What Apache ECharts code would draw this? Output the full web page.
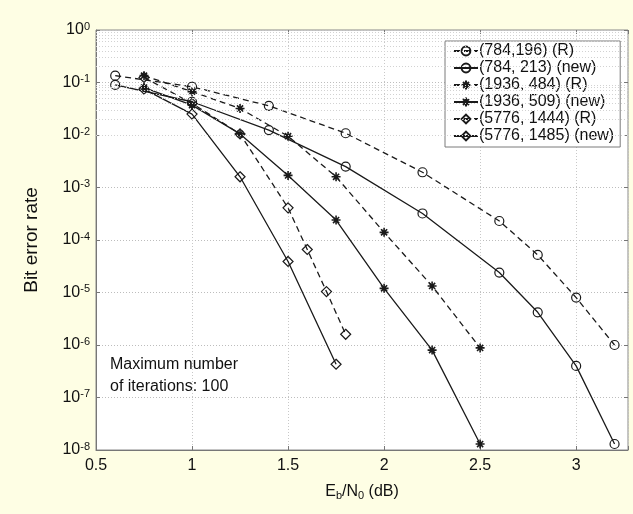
<!DOCTYPE html>
<html>
<head>
<meta charset="utf-8">
<script src="https://cdn.jsdelivr.net/npm/echarts@6/dist/echarts.min.js"></script>
<style>
  html, body { margin: 0; padding: 0; }
  #chart { width: 633px; height: 514px; }
</style>
</head>
<body>
<div id="chart"></div>
<script>
// Eb/N0 points (dB) and measured bit error rates for each code
const snr784 = [0.6, 1.0, 1.4, 1.8, 2.2, 2.6, 2.8, 3.0, 3.2];
const ber784R = [0.135, 0.083, 0.036, 0.0108, 0.00195, 2.3e-4, 5.2e-5, 8e-6, 1e-6];
const ber784New = [0.09, 0.043, 0.0124, 0.0025, 3.2e-4, 2.4e-5, 4.2e-6, 4e-7, 1.3e-8];

const snr1936 = [0.75, 1.0, 1.25, 1.5, 1.75, 2.0, 2.25, 2.5];
const ber1936R = [0.135, 0.067, 0.032, 0.0095, 0.0016, 1.4e-4, 1.33e-5, 8.8e-7];
const ber1936New = [0.08, 0.037, 0.0105, 0.0017, 2.4e-4, 1.2e-5, 8e-7, 1.3e-8];

const snr5776R = [0.75, 1.0, 1.25, 1.5, 1.6, 1.7, 1.8];
const ber5776R = [0.125, 0.04, 0.0105, 4.1e-4, 6.6e-5, 1.04e-5, 1.6e-6];
const snr5776New = [0.75, 1.0, 1.25, 1.5, 1.75];
const ber5776New = [0.075, 0.025, 1.6e-3, 3.9e-5, 4.3e-7];

const seriesNames = [
  '(784,196) (R)', '(784, 213) (new)',
  '(1936, 484) (R)', '(1936, 509) (new)',
  '(5776, 1444) (R)', '(5776, 1485) (new)'
];

const xTicks = [0.5, 1, 1.5, 2, 2.5, 3];

// minor log grid lines: 2..9 x 10^k
const minorGrid = [];
for (let k = -8; k < 0; k++) {
  for (let m = 2; m <= 9; m++) minorGrid.push(m * Math.pow(10, k));
}

const ink = '#1a1a1a';
const paper = '#FEFEE4';
const asterisk = 'path://M5,0L5,10M0,5L10,5M1.6,1.6L8.4,8.4M1.6,8.4L8.4,1.6';

function pairs(xs, ys) { return xs.map((x, i) => [x, ys[i]]); }

function makeSeries(name, xs, ys, symbol, dashed) {
  const isStar = symbol === asterisk;
  return {
    name: name,
    type: 'line',
    data: pairs(xs, ys),
    symbol: symbol,
    symbolSize: isStar ? 9 : (symbol === 'diamond' ? 10 : 9),
    showAllSymbol: true,
    lineStyle: { color: ink, width: 1.3, type: dashed ? [6, 4] : 'solid' },
    itemStyle: {
      color: isStar ? ink : 'rgba(255,255,255,0)',
      borderColor: ink,
      borderWidth: isStar ? 1.6 : 1.2
    },
    emphasis: { disabled: true },
    animation: false,
    z: 3
  };
}

const chart = echarts.init(document.getElementById('chart'), null, { renderer: 'canvas' });

const option = {
  animation: false,
  grid: {
    left: 96, right: 5, top: 30, bottom: 64,
    show: true, backgroundColor: '#ffffff', borderColor: '#8a8a8a', borderWidth: 1,
    containLabel: false, outerBoundsMode: 'none'
  },
  xAxis: [{
    type: 'value', min: 0.5, max: 3.27, interval: 0.5,
    axisLine: { show: true, lineStyle: { color: '#777' } },
    axisTick: { show: true, inside: true, length: 4, lineStyle: { color: '#777' } },
    axisLabel: {
      color: '#111', fontFamily: 'Liberation Sans', fontSize: 16, margin: 8,
      formatter: v => xTicks.some(t => Math.abs(t - v) < 1e-6) ? String(v) : ''
    },
    splitLine: { show: true, lineStyle: { color: '#c8c8c8', type: [1, 2] } },
    name: '{n|E}{s|b}{n|/N}{s|0}{n| (dB)}',
    nameLocation: 'middle', nameGap: 32,
    nameTextStyle: {
      rich: {
        n: { fontFamily: 'Liberation Sans', fontSize: 16, color: '#111' },
        s: { fontFamily: 'Liberation Sans', fontSize: 11, color: '#111', verticalAlign: 'bottom', padding: [8, 0, 0, 0] }
      }
    }
  }, {
    type: 'value', min: 0.5, max: 3.27, interval: 0.5, position: 'top',
    axisLine: { show: false },
    axisTick: { show: true, inside: true, length: 4, lineStyle: { color: '#777' } },
    axisLabel: { show: false }, splitLine: { show: false }
  }],
  yAxis: [{
    type: 'log', logBase: 10, min: 1e-8, max: 1, splitNumber: 8,
    axisLine: { show: true, lineStyle: { color: '#777' } },
    axisTick: { show: true, inside: true, length: 4, lineStyle: { color: '#777' } },
    axisLabel: {
      margin: 6,
      formatter: v => '{b|10}{e|' + Math.round(Math.log10(v)) + '}',
      rich: {
        b: { fontFamily: 'Liberation Sans', fontSize: 16, color: '#111', lineHeight: 18 },
        e: { fontFamily: 'Liberation Sans', fontSize: 11, color: '#111', verticalAlign: 'top', lineHeight: 12, padding: [0, 0, 10, 0] }
      }
    },
    splitLine: { show: true, lineStyle: { color: '#bdbdbd', type: [1, 2] } },
    name: 'Bit error rate', nameLocation: 'middle', nameGap: 55,
    nameTextStyle: { fontFamily: 'Liberation Sans', fontSize: 19, color: '#111' }
  }, {
    type: 'log', logBase: 10, min: 1e-8, max: 1, splitNumber: 8, position: 'right',
    axisLine: { show: false },
    axisTick: { show: true, inside: true, length: 4, lineStyle: { color: '#777' } },
    axisLabel: { show: false }, splitLine: { show: false }
  }],
  legend: {
    orient: 'vertical', left: 445, top: 41,
    backgroundColor: '#ffffff', borderColor: '#7a7a7a', borderWidth: 1,
    padding: [2, 6, 3, 8], itemWidth: 24, itemHeight: 11, itemGap: 1,
    selectedMode: false,
    textStyle: { fontFamily: 'Liberation Sans', fontSize: 16, lineHeight: 16, color: '#111', padding: [0, 0, 0, -4] },
    data: seriesNames
  },
  graphic: [{
    // page background behind everything
    type: 'rect', left: 0, top: 0, z: -100, silent: true,
    shape: { width: 633, height: 514 },
    style: { fill: paper }
  }, {
    type: 'text', left: 185 - 75, top: 354, silent: true,
    style: {
      text: 'Maximum number\nof iterations: 100', x: 0, y: 0,
      fontFamily: 'Liberation Sans', fontSize: 16, lineHeight: 22, fill: '#111', align: 'center',
      width: 150
    }
  }],
  series: [
    {
      type: 'line', data: [], silent: true, z: 1,
      markLine: {
        silent: true, symbol: ['none', 'none'], animation: false,
        label: { show: false },
        lineStyle: { color: '#d2d2d2', type: [1, 2], width: 1 },
        data: minorGrid.map(v => ({ yAxis: v }))
      }
    },
    makeSeries(seriesNames[0], snr784, ber784R, 'circle', true),
    makeSeries(seriesNames[1], snr784, ber784New, 'circle', false),
    makeSeries(seriesNames[2], snr1936, ber1936R, asterisk, true),
    makeSeries(seriesNames[3], snr1936, ber1936New, asterisk, false),
    makeSeries(seriesNames[4], snr5776R, ber5776R, 'diamond', true),
    makeSeries(seriesNames[5], snr5776New, ber5776New, 'diamond', false)
  ]
};

chart.setOption(option);
</script>
</body>
</html>
